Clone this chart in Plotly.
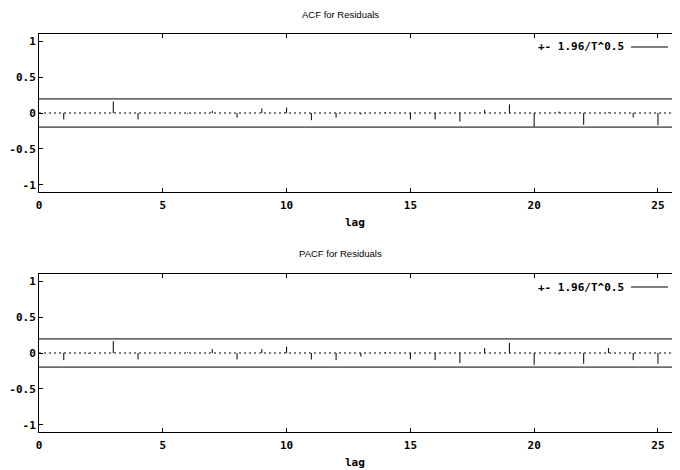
import numpy as np
import plotly.graph_objects as go

lags = list(range(1, 26))
acf_vals = [-0.09, 0.0, 0.16, -0.09, 0.005, -0.01, 0.03, -0.065, 0.065, 0.075,
            -0.10, -0.065, -0.02, 0.01, -0.09, -0.09, -0.12, 0.045, 0.12, -0.19,
            0.02, -0.165, 0.01, -0.065, -0.17]
pacf_vals = [-0.10, -0.01, 0.165, -0.09, 0.005, 0.01, 0.055, -0.09, 0.055, 0.09,
             -0.09, -0.10, -0.05, 0.01, -0.085, -0.10, -0.14, 0.07, 0.14, -0.165,
             -0.02, -0.15, 0.07, -0.10, -0.15]
T = 100
bound = 1.96 / np.sqrt(T)
titles = ["ACF for Residuals", "PACF for Residuals"]
legend_text = "+- 1.96/T^0.5"
x_label = "lag"
x_ticks = [0, 5, 10, 15, 20, 25]
y_ticks = [-1, -0.5, 0, 0.5, 1]
y_ticklabels = ["-1", "-0.5", "0", "0.5", "1"]

XMAX = 25.89
fig = go.Figure()

def impulse_xy(xs, ys):
    px, py = [], []
    for a, b in zip(xs, ys):
        px += [a, a, None]
        py += [0, b, None]
    return px, py

for i, vals in enumerate([acf_vals, pacf_vals]):
    xa = "x" if i == 0 else "x2"
    ya = "y" if i == 0 else "y2"
    yr = "y3" if i == 0 else "y4"
    fig.add_trace(go.Scatter(x=[0, XMAX], y=[0, 0], mode="lines", xaxis=xa, yaxis=yr,
                             line=dict(color="black", width=1, dash="2px,3px"),
                             showlegend=False, hoverinfo="skip"))
    for s in (1, -1):
        fig.add_trace(go.Scatter(x=[0, XMAX], y=[s * bound, s * bound], mode="lines",
                                 xaxis=xa, yaxis=ya, line=dict(color="black", width=1),
                                 showlegend=False))
    px, py = impulse_xy(lags, vals)
    fig.add_trace(go.Scatter(x=px, y=py, mode="lines", xaxis=xa, yaxis=ya,
                             line=dict(color="black", width=1), showlegend=False))

MONO = "DejaVu Sans Mono, Liberation Mono, monospace"
tickfont = dict(family=MONO, size=11, color="black", weight="bold")
axis_common = dict(showgrid=False, zeroline=False, linecolor="black", linewidth=1,
                   ticks="inside", ticklen=4, tickcolor="black", tickwidth=1, tickfont=tickfont,
                   automargin=False)

OFF = 8                       # default page body margin
W, H = 680 - OFF, 470 - OFF
left_p, right_p = 39, 680
top_p, bot_p = 34, 432
ph = bot_p - top_p
pw = right_p - left_p

def py_(pix):
    return (bot_p - pix) / ph

def px_(pix):
    return (pix - left_p) / pw

top_dom = [py_(192), 1]
bot_dom = [0, py_(274)]
fig.update_layout(
    width=W, height=H,
    margin=dict(l=left_p - OFF, r=0, t=top_p - OFF, b=H - (bot_p - OFF), pad=0),
    paper_bgcolor="white", plot_bgcolor="white",
    showlegend=False,
    xaxis=dict(domain=[0, 1], range=[0, XMAX], anchor="y", tickvals=x_ticks, mirror="ticks",
               showline=True, ticklabelstandoff=3, **axis_common),
    yaxis=dict(domain=top_dom, range=[-1.1, 1.1], anchor="x", tickvals=y_ticks,
               ticktext=y_ticklabels, showline=True, ticklabelstandoff=0, **axis_common),
    yaxis3=dict(domain=top_dom, range=[-1.1, 1.1], anchor="x", overlaying="y", side="right",
                tickvals=y_ticks, showline=False, showticklabels=False, **axis_common),
    xaxis2=dict(domain=[0, 1], range=[0, XMAX], anchor="y2", tickvals=x_ticks, mirror="ticks",
                showline=True, ticklabelstandoff=3, **axis_common),
    yaxis2=dict(domain=bot_dom, range=[-1.1, 1.1], anchor="x2", tickvals=y_ticks,
                ticktext=y_ticklabels, showline=True, ticklabelstandoff=0, **axis_common),
    yaxis4=dict(domain=bot_dom, range=[-1.1, 1.1], anchor="x2", overlaying="y2", side="right",
                tickvals=y_ticks, showline=False, showticklabels=False, **axis_common),
)

titlefont = dict(family="Liberation Sans, Arial, sans-serif", size=9.5, color="black")
labelfont = dict(family=MONO, size=11, color="black", weight="bold")
annotations = []
for title, ty, ly, legy in [(titles[0], 15, 222, 47), (titles[1], 254, 462, 287)]:
    annotations.append(dict(text=title, x=px_(340), xref="paper", y=py_(ty), yref="paper",
                            showarrow=False, font=titlefont, xanchor="center", yanchor="middle"))
    annotations.append(dict(text=x_label, x=px_(355), xref="paper", y=py_(ly), yref="paper",
                            showarrow=False, font=labelfont, xanchor="center", yanchor="middle"))
    annotations.append(dict(text=legend_text, x=px_(626), xref="paper", y=py_(legy), yref="paper",
                            showarrow=False, font=labelfont, xanchor="right", yanchor="middle"))
    fig.add_shape(type="line", xref="paper", yref="paper",
                  x0=px_(631), x1=px_(668), y0=py_(legy), y1=py_(legy),
                  line=dict(color="black", width=1))
fig.update_layout(annotations=annotations)

fig.write_html("out.html")
